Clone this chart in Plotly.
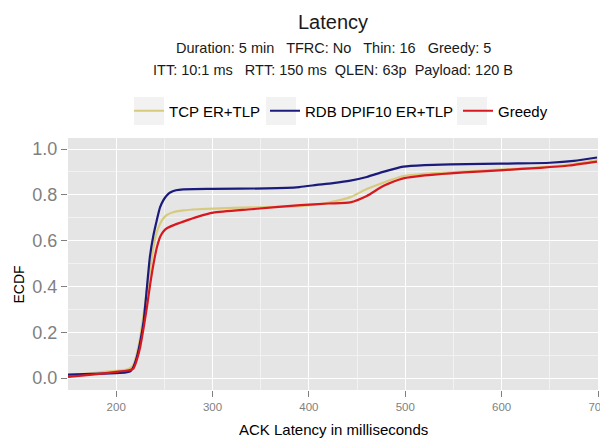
import plotly.graph_objects as go

# ---- data ----
tcp_x = [150, 175, 200, 210, 214, 217.6, 221, 225, 228.5, 232, 235.5, 238.8, 242, 245.7, 249, 252.6, 260, 269.6, 285, 300.7, 340, 391, 410, 425, 443, 460, 477, 498, 520, 547, 575, 602, 640, 670, 699]
tcp_y = [0.012, 0.022, 0.032, 0.036, 0.042, 0.057, 0.10, 0.18, 0.28, 0.384, 0.48, 0.573, 0.635, 0.675, 0.698, 0.712, 0.725, 0.732, 0.737, 0.740, 0.745, 0.751, 0.758, 0.770, 0.790, 0.825, 0.853, 0.882, 0.892, 0.898, 0.905, 0.911, 0.92, 0.932, 0.952]

rdb_x = [150, 175, 200, 210, 215, 218, 221.5, 225, 228.5, 232, 235, 238.5, 242.2, 245.5, 249, 252.5, 256, 262, 269.6, 300, 356, 390, 408, 425, 443, 460, 477, 498, 520, 547, 580, 616, 650, 675, 699]
rdb_y = [0.015, 0.018, 0.022, 0.025, 0.03, 0.05, 0.093, 0.16, 0.25, 0.40, 0.53, 0.62, 0.69, 0.745, 0.777, 0.797, 0.81, 0.82, 0.824, 0.826, 0.828, 0.834, 0.843, 0.851, 0.862, 0.878, 0.900, 0.923, 0.930, 0.933, 0.935, 0.937, 0.94, 0.948, 0.963]

grd_x = [150, 175, 200, 210, 215, 218, 221.5, 225, 228.5, 231.9, 235.3, 238.8, 242.2, 245.7, 249, 252.6, 260, 269.6, 285, 300.7, 340, 391, 420, 443, 460, 477, 498, 520, 547, 575, 602, 640, 670, 699]
grd_y = [0.005, 0.015, 0.027, 0.032, 0.036, 0.042, 0.08, 0.137, 0.22, 0.31, 0.41, 0.50, 0.57, 0.617, 0.64, 0.654, 0.668, 0.683, 0.705, 0.722, 0.737, 0.755, 0.762, 0.767, 0.795, 0.838, 0.872, 0.885, 0.894, 0.901, 0.908, 0.918, 0.928, 0.945]

series = [
    ("TCP ER+TLP", tcp_x, tcp_y, "#d6cb7d"),
    ("RDB DPIF10 ER+TLP", rdb_x, rdb_y, "#1b1b7c"),
    ("Greedy", grd_x, grd_y, "#d7181e"),
]

x_ticks = [200, 300, 400, 500, 600, 700]
y_ticks = [0.0, 0.2, 0.4, 0.6, 0.8, 1.0]
y_ticktext = ["0.0", "0.2", "0.4", "0.6", "0.8", "1.0"]

# the page places the figure 8px from the top-left corner; compensate
OFF = 8
W, H = 608 - OFF, 444 - OFF
ML, MR, MT, MB = 68 - OFF, 10, 138 - OFF, 54
PW, PH = W - ML - MR, H - MT - MB


def px_x(p):
    return (p - OFF - ML) / PW


def px_y(p):
    return (H - MB - (p - OFF)) / PH


fig = go.Figure()
for name, xs, ys, col in series:
    fig.add_trace(go.Scatter(x=xs, y=ys, mode="lines", name=name,
                             line=dict(color=col, width=2.2, shape="spline", smoothing=0.6)))

# grey key backgrounds behind the legend samples
key_boxes = [(134, 164), (266, 296), (457, 487)]
shapes = [dict(type="rect", xref="paper", yref="paper", x0=px_x(a), x1=px_x(b),
               y0=px_y(125), y1=px_y(97), fillcolor="#f2f2f2", line=dict(width=0), layer="below")
          for a, b in key_boxes]

font_family = "Liberation Sans, Arial, sans-serif"
fig.update_layout(
    width=W, height=H,
    margin=dict(l=ML, r=MR, t=MT, b=MB, autoexpand=False),
    paper_bgcolor="white", plot_bgcolor="#e5e5e5",
    font=dict(family=font_family, color="#000000"),
    showlegend=True,
    legend=dict(orientation="h", x=px_x(341), xanchor="center", y=px_y(111), yanchor="middle",
                font=dict(size=15, color="#000000"), itemwidth=30,
                bgcolor="rgba(0,0,0,0)", traceorder="normal"),
    shapes=shapes,
    annotations=[
        dict(text="Latency", x=px_x(333), xref="paper", y=px_y(OFF + 0.5), yref="paper", showarrow=False,
             font=dict(size=20, color="#1a1a1a"), xanchor="center", yanchor="top"),
        dict(text="Duration: 5 min   TFRC: No   Thin: 16   Greedy: 5", x=px_x(333), xref="paper",
             y=px_y(48), yref="paper", showarrow=False, font=dict(size=14.5, color="#1a1a1a"),
             xanchor="center", yanchor="middle"),
        dict(text="ITT: 10:1 ms   RTT: 150 ms  QLEN: 63p  Payload: 120 B", x=px_x(333), xref="paper",
             y=px_y(70), yref="paper", showarrow=False, font=dict(size=14.5, color="#1a1a1a"),
             xanchor="center", yanchor="middle"),
        dict(text="ECDF", x=px_x(OFF + 0.5), xref="paper", y=px_y(285), yref="paper", showarrow=False,
             textangle=-90, font=dict(size=14), xanchor="left", yanchor="middle"),
        dict(text="ACK Latency in milliseconds", x=px_x(333), xref="paper", y=px_y(430), yref="paper",
             showarrow=False, font=dict(size=15), xanchor="center", yanchor="middle"),
    ],
)

fig.update_xaxes(range=[150, 700], tickvals=x_ticks, ticks="outside", ticklen=6, tickwidth=1.2,
                 tickcolor="#7f7f7f",
                 tickfont=dict(size=11.5, color="#7f7f7f"), showgrid=True, gridcolor="white", gridwidth=1.3,
                 minor=dict(dtick=50, tick0=150, showgrid=True, gridcolor="#f2f2f2", gridwidth=0.6),
                 zeroline=False, showline=False)
fig.update_yaxes(range=[-0.052, 1.048], tickvals=y_ticks, ticktext=y_ticktext,
                 ticks="outside", ticklen=6, tickwidth=1.2, tickcolor="#7f7f7f",
                 tickfont=dict(size=18, color="#7f7f7f"), showgrid=True, gridcolor="white", gridwidth=1.3,
                 minor=dict(dtick=0.1, tick0=0.1, showgrid=True, gridcolor="#f2f2f2", gridwidth=0.6),
                 zeroline=False, showline=False)

fig.write_html("out.html")
